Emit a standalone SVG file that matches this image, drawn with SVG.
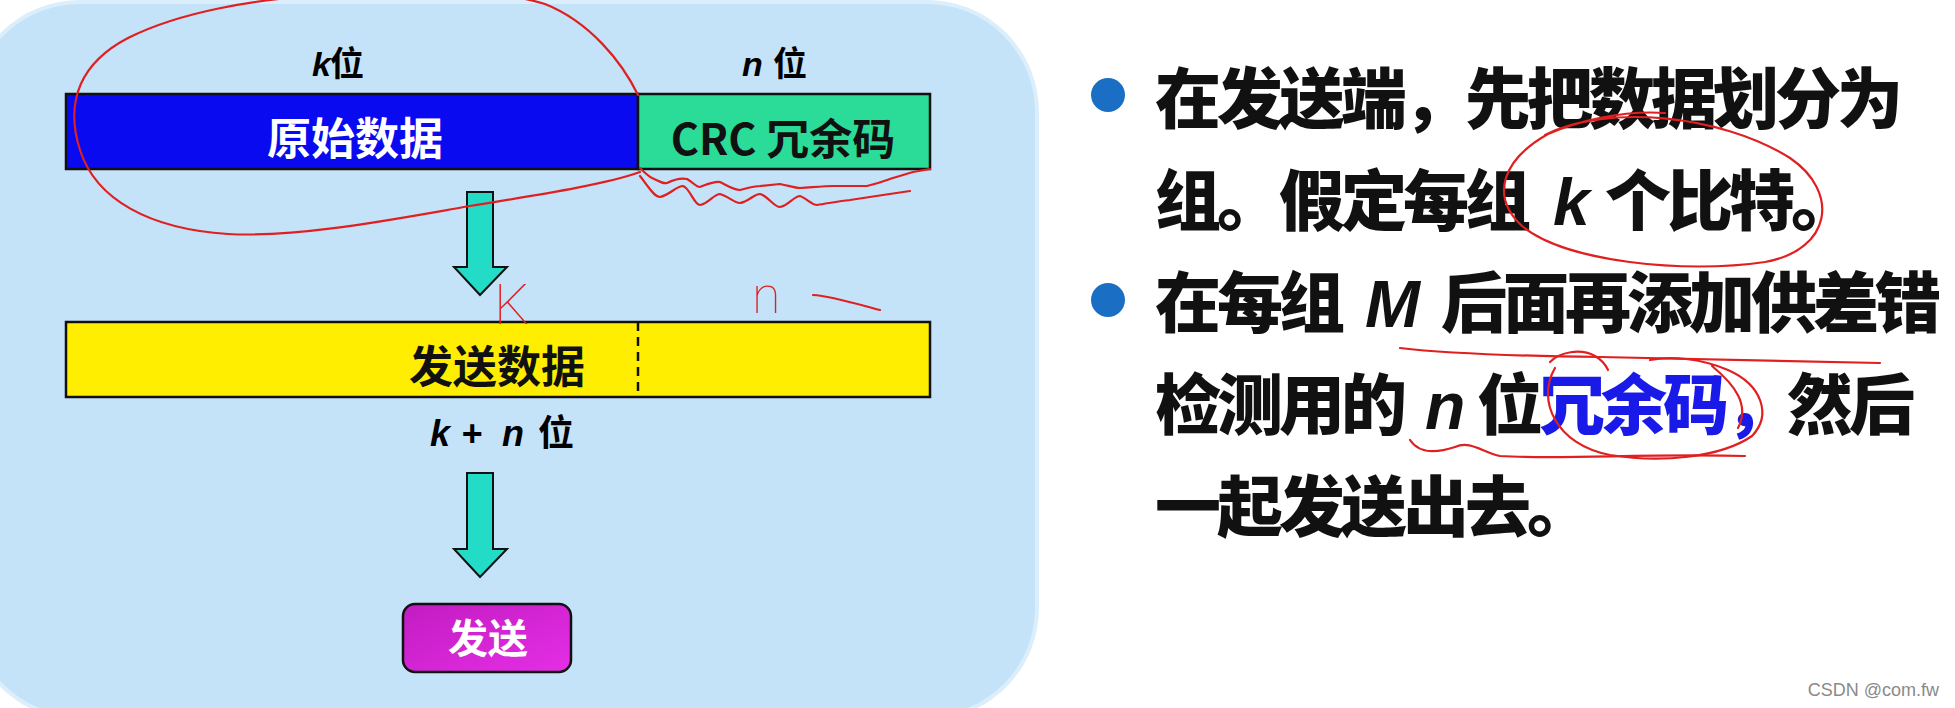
<svg xmlns="http://www.w3.org/2000/svg" width="1955" height="708" viewBox="0 0 1955 708">
<defs>
<style>
.cjk{font-family:"Noto Sans CJK SC","Noto Sans CJK TC",sans-serif;font-weight:bold}
.heavy{font-weight:900}
.lat{font-family:"Liberation Sans",Arial,sans-serif;font-weight:bold;font-style:italic}
.bar{stroke:#111;stroke-width:2.5}
.arrow{fill:#22dcc8;stroke:#111;stroke-width:2}
.pen{fill:none;stroke:#e02020;stroke-width:2.2;stroke-linecap:round;stroke-linejoin:round}
.hand{font-family:Roboto,"Liberation Sans",sans-serif;font-weight:100;fill:#e02020}
.body{font-size:66px;letter-spacing:-4px;fill:#111}
.bullet{fill:#1a6fc4}
</style>
<linearGradient id="mag" x1="0" y1="0" x2="1" y2="1">
<stop offset="0" stop-color="#c21cc2"/>
<stop offset="1" stop-color="#e52ee5"/>
</linearGradient>
</defs>
<rect x="0" y="0" width="1955" height="708" fill="#ffffff"/>
<rect id="panel" x="-30" y="2" width="1067" height="716" rx="110" ry="110" fill="#c4e2f8" stroke="#dbeefb" stroke-width="4"/>

<g id="label-k">
<text x="312" y="76" font-size="34"><tspan class="lat">k</tspan><tspan class="cjk" x="330">位</tspan></text>
</g>
<g id="label-n">
<text x="742" y="76" font-size="34"><tspan class="lat">n</tspan><tspan class="cjk" x="773">位</tspan></text>
</g>

<g id="node-raw">
<rect class="bar" x="66" y="94" width="572" height="75" fill="#0a0af0"/>
<text class="cjk" x="355" y="155" font-size="44" fill="#ffffff" text-anchor="middle">原始数据</text>
</g>
<g id="node-crc">
<rect class="bar" x="638" y="94" width="292" height="75" fill="#2adc98"/>
<text class="cjk" x="783" y="155" font-size="43" fill="#111" text-anchor="middle">CRC 冗余码</text>
</g>

<g id="node-send-data">
<rect class="bar" x="66" y="322" width="864" height="75" fill="#ffee00"/>
<line x1="638" y1="322" x2="638" y2="397" stroke="#111" stroke-width="2.5" stroke-dasharray="9,6"/>
<text class="cjk" x="497" y="383" font-size="44" fill="#111" text-anchor="middle">发送数据</text>
</g>
<g id="label-kn">
<text x="430" y="446" font-size="36"><tspan class="lat">k</tspan><tspan class="lat" x="461">+</tspan><tspan class="lat" x="502">n</tspan><tspan class="cjk" x="538">位</tspan></text>
</g>

<g id="node-send">
<rect x="403" y="604" width="168" height="68" rx="12" ry="12" fill="url(#mag)" stroke="#111" stroke-width="2.5"/>
<text class="cjk" x="488" y="653" font-size="40" fill="#ffffff" text-anchor="middle">发送</text>
</g>

<g id="connectors">
<polygon class="arrow" points="467,192 493,192 493,267 507,267 480,295 454,267 467,267"/>
<polygon class="arrow" points="467,473 493,473 493,549 507,549 480,577 454,549 467,549"/>
</g>

<g id="bullet-1">
<circle class="bullet" cx="1108" cy="95" r="17"/>
<text class="cjk heavy body" x="1155" y="123">在发送端，先把数据划分为</text>
<text class="cjk heavy body" y="225"><tspan x="1155">组。假定每组</tspan><tspan class="lat" x="1553" letter-spacing="0">k</tspan><tspan x="1605">个比特。</tspan></text>
</g>
<g id="bullet-2">
<circle class="bullet" cx="1108" cy="300" r="17"/>
<text class="cjk heavy body" y="327"><tspan x="1155">在每组</tspan><tspan class="lat" x="1365" letter-spacing="0">M</tspan><tspan x="1441">后面再添加供差错</tspan></text>
<text class="cjk heavy body" y="429"><tspan x="1155">检测用的</tspan><tspan class="lat" x="1425" letter-spacing="0">n</tspan><tspan x="1477">位</tspan><tspan fill="#1a1ae8">冗余码，</tspan><tspan>然后</tspan></text>
<text class="cjk heavy body" x="1155" y="531">一起发送出去。</text>
</g>

<g id="annotations">
<path class="pen" d="M 640,172 C 600,186 530,196 470,206 C 400,218 300,238 228,234 C 150,229 96,200 80,150 C 64,100 82,62 128,38 C 180,12 250,0 330,-6 C 420,-12 500,-10 545,4 C 590,22 622,62 638,95"/>
<path class="pen" d="M 640,168 C 644,172 648,176 652,178 C 660,182 664,184 667,183 C 677,178 682,178 687,179 C 694,183 696,187 700,187 C 708,184 714,181 720,182 C 728,186 734,190 740,190 C 748,188 754,186 760,186 L 780,184 C 790,186 795,188 800,188 C 815,187 825,186 833,186 L 867,186 C 880,183 887,180 893,178 L 913,172 L 930,169"/>
<path class="pen" d="M 640,176 C 648,186 654,197 660,197 C 670,195 676,186 683,186 C 690,188 694,205 700,205 C 708,204 714,194 720,194 C 728,196 734,203 740,203 C 748,202 754,194 760,194 C 768,196 774,207 780,207 C 788,206 794,196 800,196 C 806,198 812,205 817,205 C 830,203 840,201 850,200 L 883,195 L 910,191"/>
<text class="hand" x="494" y="324" font-size="56">K</text>
<text class="hand" x="752" y="313" font-size="52">n</text>
<path class="pen" d="M 813,295 C 830,296 850,302 880,310"/>
<path class="pen" d="M 1545,135 C 1605,104 1720,114 1790,158 C 1840,192 1832,250 1765,262 C 1685,274 1565,262 1522,226 C 1490,196 1502,160 1548,134 C 1575,122 1622,110 1665,113"/>
<path class="pen" d="M 1400,348 C 1450,354 1520,356 1600,357 C 1700,359 1800,361 1880,363"/>
<path class="pen" d="M 1550,362 C 1560,352 1580,348 1595,356 C 1605,362 1607,368 1608,370 M 1555,368 C 1536,400 1556,445 1610,455 C 1660,463 1720,458 1752,436 C 1772,415 1762,385 1728,370 C 1700,358 1670,356 1650,360 M 1712,366 C 1735,385 1750,405 1738,428"/>
<path class="pen" d="M 1410,440 C 1420,455 1440,452 1455,447 C 1470,440 1482,452 1500,456 C 1560,460 1650,453 1745,456"/>
</g>

<text x="1939" y="696" font-family="'Liberation Sans',Arial,sans-serif" font-size="18" fill="#8a8a8a" text-anchor="end">CSDN @com.fw</text>
</svg>
